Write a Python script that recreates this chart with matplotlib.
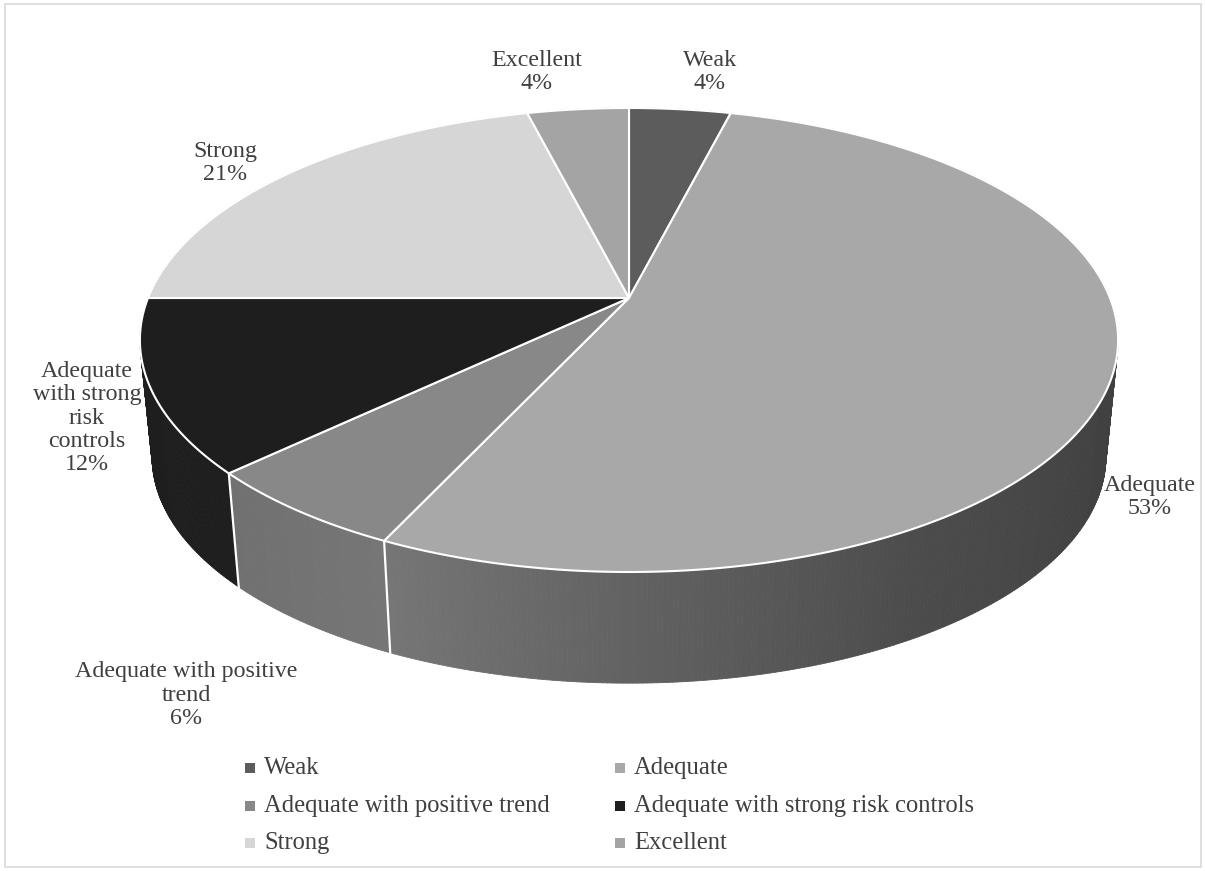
import numpy as np
import matplotlib
matplotlib.use("Agg")
import matplotlib.pyplot as plt
from matplotlib.collections import PolyCollection
from matplotlib.patches import Polygon, Rectangle

# ---- data ----
categories = ["Weak", "Adequate", "Adequate with positive trend",
              "Adequate with strong risk controls", "Strong", "Excellent"]
values = [4, 53, 6, 12, 21, 4]
label_texts = ["Weak\n4%", "Adequate\n53%", "Adequate with positive\ntrend\n6%",
               "Adequate\nwith strong\nrisk\ncontrols\n12%", "Strong\n21%", "Excellent\n4%"]

# ---- styles ----
top_levels = [92, 168, 136, 30, 214, 164]
label_pos = [(710, 72), (1150, 497), (186, 695), (87, 418), (225, 163), (537, 72)]
FONT = "Liberation Serif"
TXT = "#404040"
FS = 17.3
FS_LEG = 17.7

W, H = 1205, 871
fig = plt.figure(figsize=(W / 100, H / 100), dpi=100)
ax = fig.add_axes([0, 0, 1, 1])
ax.set_xlim(0, W)
ax.set_ylim(H, 0)
ax.axis("off")

# projection of the disk (perspective-like homography)
CX = 629
TOP = dict(s=481.0, t=224.4, k=0.181, v0=298.0)
BOT = dict(s=469.0, t=218.8, k=0.181, v0=416.0)


def proj(theta_deg, P, r=1.0):
    th = np.radians(theta_deg)
    X = r * np.cos(th)
    Y = r * np.sin(th)
    d = 1 + P["k"] * Y
    return CX + P["s"] * X / d, P["v0"] - P["t"] * Y / d


def gray(l):
    l = max(0, min(255, int(round(l)))) / 255.0
    return (l, l, l)


total = float(sum(values))
fracs = np.cumsum([0] + values) / total
bounds = 90 - 360 * fracs  # degrees, clockwise from 12 o'clock

# side shading as function of angle
sh_th = [-200, -137, -115, -90, -60, -30, 0, 20]
sh_lv = [112, 112, 118, 98, 76, 66, 62, 62]

quads, qcols, qkeys = [], [], []
for i in range(len(values)):
    a0, a1 = bounds[i], bounds[i + 1]
    n = max(4, int(abs(a1 - a0) * 2))
    ths = np.linspace(a0, a1, n + 1)
    for j in range(n):
        ta, tb = ths[j], ths[j + 1]
        xa, ya = proj(ta, TOP)
        xb, yb = proj(tb, TOP)
        xc, yc = proj(tb, BOT)
        xd, yd = proj(ta, BOT)
        tm = (ta + tb) / 2
        tmn = ((tm + 180) % 360) - 180
        lv = min(top_levels[i], np.interp(tmn, sh_th, sh_lv))
        quads.append([(xa, ya), (xb, yb), (xc, yc), (xd, yd)])
        qcols.append(gray(lv))
        qkeys.append(np.sin(np.radians(tm)))

order = np.argsort(-np.array(qkeys))
pc = PolyCollection([quads[o] for o in order], facecolors=[qcols[o] for o in order],
                    edgecolors=[qcols[o] for o in order], linewidths=0.6, zorder=2)
ax.add_collection(pc)

# white separators on the visible wall
for b in bounds[:-1]:
    if np.sin(np.radians(b)) < -0.2:
        x1, y1 = proj(b, TOP)
        x2, y2 = proj(b, BOT)
        ax.plot([x1, x2], [y1, y2], color="white", lw=1.6, zorder=3)

# top faces
cx0, cy0 = proj(0, TOP, r=0.0)
for i in range(len(values)):
    a0, a1 = bounds[i], bounds[i + 1]
    ths = np.linspace(a0, a1, max(8, int(abs(a1 - a0) * 3)))
    pts = [(cx0, cy0)] + [proj(t, TOP) for t in ths]
    ax.add_patch(Polygon(pts, closed=True, facecolor=gray(top_levels[i]),
                         edgecolor="white", lw=1.5, joinstyle="round", zorder=4))

# data labels
for i, txt in enumerate(label_texts):
    x, y = label_pos[i]
    ax.text(x, y, txt, ha="center", va="center", fontsize=FS, family=FONT,
            color=TXT, linespacing=1.13, zorder=6)

# legend (2 columns)
leg_x = [250, 620]
leg_y = [768, 806, 843]
for i, name in enumerate(categories):
    col, row = i % 2, i // 2
    ax.scatter([leg_x[col]], [leg_y[row]], marker="s", s=42,
               color=gray(top_levels[i]), zorder=6, linewidths=0)
    ax.text(leg_x[col] + 14, leg_y[row], name, ha="left", va="center",
            fontsize=FS_LEG, family=FONT, color=TXT, zorder=6)

# chart border
ax.add_patch(Rectangle((4.5, 4.5), W - 9, H - 9, fill=False, edgecolor="#d9d9d9",
                       lw=1.2, zorder=7))

fig.savefig("out.png", dpi=100)
